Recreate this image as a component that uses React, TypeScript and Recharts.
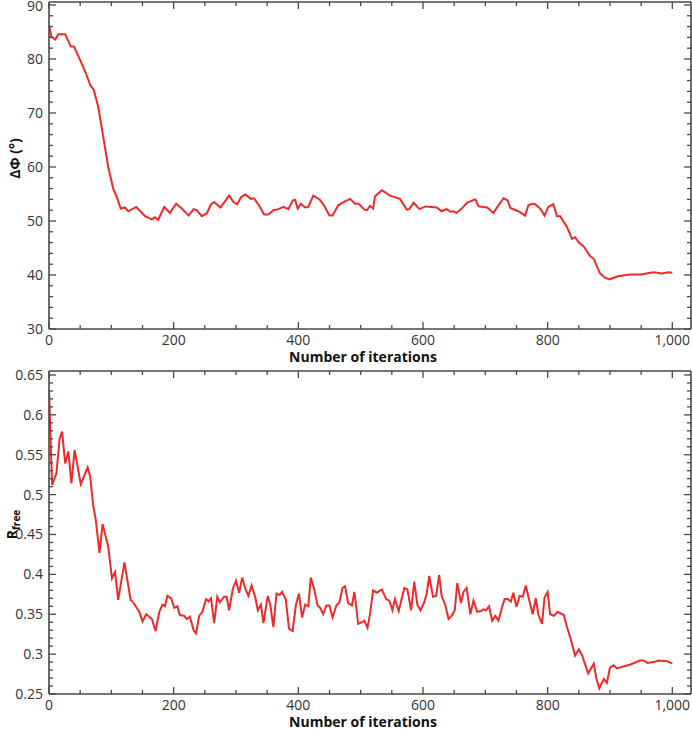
import { LineChart, Line, XAxis, YAxis, Label } from "recharts";

// Delta Phi vs iterations (top panel)
const topIter = [
  0, 4, 10, 15, 26, 35, 40, 50, 59, 66, 72, 79, 87, 95, 103, 110, 115, 122, 127, 140,
  154, 165, 170, 175, 185, 194, 204, 213, 224, 232, 237, 245, 253, 260, 265, 275, 289, 296, 302, 308,
  315, 324, 329, 339, 345, 352, 360, 368, 376, 384, 391, 395, 399, 404, 411, 416, 424, 434, 441, 450,
  455, 464, 474, 483, 491, 497, 506, 510, 515, 520, 523, 534, 547, 563, 574, 578, 585, 594, 604, 622,
  630, 638, 644, 649, 654, 662, 671, 684, 689, 703, 713, 729, 736, 740, 753, 764, 769, 775, 780, 788,
  795, 801, 809, 815, 820, 831, 839, 844, 850, 858, 868, 874, 884, 892, 899, 914, 933, 949, 970, 983,
  994, 1000,
];
const topDelta = [
  86.3, 84.1, 83.6, 84.6, 84.6, 82.3, 82.3, 79.8, 77.4, 75.2, 74.2, 71.1, 65.6, 60.0, 56.0, 54.1, 52.3, 52.5, 51.8, 52.6,
  50.9, 50.3, 50.7, 50.2, 52.6, 51.5, 53.2, 52.3, 51.0, 52.2, 52.0, 50.9, 51.4, 53.1, 53.5, 52.5, 54.7, 53.5, 53.1, 54.4,
  54.9, 54.1, 54.2, 52.5, 51.2, 51.2, 52.0, 52.2, 52.6, 52.2, 53.8, 53.9, 52.3, 53.2, 52.5, 52.6, 54.7, 54.0, 52.9, 51.0,
  51.0, 52.9, 53.6, 54.1, 53.2, 53.2, 52.1, 52.0, 52.8, 52.3, 54.6, 55.7, 54.7, 54.1, 52.1, 52.2, 53.4, 52.2, 52.7, 52.5,
  51.8, 52.2, 51.7, 51.8, 51.5, 52.3, 53.4, 54.0, 52.7, 52.5, 51.5, 54.2, 53.8, 52.4, 51.8, 51.0, 52.9, 53.2, 53.1, 52.3,
  51.0, 52.6, 53.1, 50.9, 50.9, 48.9, 46.7, 47.0, 46.0, 45.3, 43.5, 43.0, 40.3, 39.5, 39.2, 39.8, 40.1, 40.1, 40.5, 40.3,
  40.5, 40.4,
];

// R_free vs iterations (bottom panel)
const botIter = [
  0, 5, 12, 17, 21, 26, 31, 36, 41, 51, 62, 66, 71, 75, 81, 86, 95, 101, 106, 111,
  121, 131, 135, 145, 150, 156, 165, 171, 177, 182, 186, 190, 196, 201, 206, 210, 217, 221, 226, 232,
  236, 241, 246, 252, 256, 260, 265, 270, 274, 281, 285, 289, 295, 300, 305, 310, 315, 320, 325, 331,
  335, 340, 344, 351, 355, 360, 365, 370, 374, 380, 385, 391, 396, 401, 406, 411, 416, 420, 425, 431,
  435, 440, 445, 450, 455, 461, 466, 471, 475, 480, 486, 490, 496, 502, 506, 511, 515, 520, 526, 534,
  541, 546, 551, 555, 561, 570, 575, 581, 586, 591, 596, 602, 606, 610, 616, 621, 626, 630, 636, 641,
  646, 651, 655, 661, 665, 670, 676, 681, 687, 693, 697, 701, 706, 711, 716, 721, 727, 731, 736, 741,
  745, 750, 755, 760, 765, 770, 776, 781, 785, 791, 795, 800, 804, 810, 816, 826, 831, 837, 844, 850,
  855, 865, 874, 878, 883, 890, 895, 900, 906, 911, 933, 948, 954, 960, 970, 978, 992, 1000,
];
const botRfree = [
  0.632, 0.512, 0.527, 0.57, 0.579, 0.539, 0.554, 0.514, 0.556, 0.513, 0.534, 0.523, 0.486, 0.469, 0.427, 0.463, 0.435, 0.395, 0.403, 0.368,
  0.415, 0.368, 0.365, 0.353, 0.341, 0.35, 0.344, 0.329, 0.353, 0.362, 0.36, 0.373, 0.37, 0.358, 0.36, 0.349, 0.348, 0.344, 0.347, 0.33,
  0.326, 0.348, 0.353, 0.369, 0.366, 0.37, 0.339, 0.372, 0.365, 0.372, 0.372, 0.355, 0.382, 0.392, 0.377, 0.396, 0.382, 0.373, 0.386, 0.371,
  0.355, 0.362, 0.339, 0.373, 0.362, 0.334, 0.376, 0.374, 0.378, 0.368, 0.332, 0.329, 0.361, 0.376, 0.346, 0.362, 0.36, 0.396, 0.383, 0.361,
  0.358, 0.35, 0.361, 0.361, 0.346, 0.361, 0.365, 0.383, 0.385, 0.364, 0.361, 0.378, 0.338, 0.34, 0.342, 0.333, 0.35, 0.38, 0.377, 0.381,
  0.369, 0.367, 0.355, 0.369, 0.354, 0.383, 0.381, 0.355, 0.391, 0.362, 0.355, 0.365, 0.376, 0.398, 0.372, 0.373, 0.399, 0.373, 0.361, 0.344,
  0.348, 0.355, 0.389, 0.364, 0.378, 0.383, 0.35, 0.367, 0.353, 0.354, 0.356, 0.355, 0.36, 0.342, 0.348, 0.342, 0.359, 0.369, 0.369, 0.366,
  0.377, 0.359, 0.373, 0.372, 0.386, 0.369, 0.35, 0.37, 0.35, 0.338, 0.371, 0.378, 0.35, 0.348, 0.353, 0.349, 0.334, 0.319, 0.298, 0.306,
  0.299, 0.276, 0.288, 0.27, 0.257, 0.269, 0.264, 0.283, 0.286, 0.282, 0.287, 0.292, 0.292, 0.289, 0.29, 0.292, 0.291, 0.288,
];

// tick labels
const xMajor = [0, 200, 400, 600, 800, 1000];
const topMajor = [30, 40, 50, 60, 70, 80, 90];
const botMajor = [0.25, 0.3, 0.35, 0.4, 0.45, 0.5, 0.55, 0.6, 0.65];

// minor ticks (every 50 iterations, every 2 degrees, every 0.01)
const xTicks = Array.from({ length: 21 }, (_, i) => i * 50);
const topTicks = Array.from({ length: 31 }, (_, i) => 30 + i * 2);
const botTicks = Array.from({ length: 41 }, (_, i) => Math.round(25 + i) / 100);

const topData = topIter.map((it, i) => ({ iter: it, dphi: topDelta[i] }));
const botData = botIter.map((it, i) => ({ iter: it, rfree: botRfree[i] }));

const AXIS = "#484848";
const TXT = "#333";
const RED = "#ee2a2a";
const FONT = "'Open Sans', 'DejaVu Sans', sans-serif";

const isMajor = (majors: number[], v: number) => majors.some((m) => Math.abs(m - v) < 1e-6);
const fmtX = (v: number) => (v >= 1000 ? v.toLocaleString("en-US") : String(v));

// inward tick marks, long on major values; labels only on bottom/left majors
function AxisTick(props: any) {
  const { x, y, payload, side, majors, fmt } = props;
  const v = payload.value;
  const major = isMajor(majors, v);
  const len = major ? 7 : 4;
  const ls = { stroke: AXIS, strokeWidth: 1.3, fill: "none" };
  let mark = null;
  let label = null;
  if (side === "bottom") {
    mark = <path d={`M${x},${y}V${y - len}`} {...ls} />;
    if (major)
      label = (
        <text x={x} y={y + 16} textAnchor="middle" fill={TXT} stroke="none" fontSize={14} fontFamily={FONT}>
          {fmt(v)}
        </text>
      );
  } else if (side === "top") {
    mark = <path d={`M${x},${y}V${y + len}`} {...ls} />;
  } else if (side === "left") {
    mark = <path d={`M${x},${y}H${x + len}`} {...ls} />;
    if (major)
      label = (
        <text
          x={x - 6}
          y={Math.max(y + 5, 11)}
          textAnchor="end"
          fill={TXT}
          stroke="none"
          fontSize={14}
          fontFamily={FONT}
        >
          {fmt(v)}
        </text>
      );
  } else {
    mark = <path d={`M${x},${y}H${x - len}`} {...ls} />;
  }
  return (
    <g>
      {mark}
      {label}
    </g>
  );
}

const axisLine = { stroke: AXIS, strokeWidth: 1.6 };

function XTitle(props: any) {
  const vb = props.viewBox;
  return (
    <text
      x={vb.x + vb.width / 2 - 7}
      y={vb.y + 33}
      textAnchor="middle"
      fontSize={14}
      fontWeight="bold"
      fontFamily={FONT}
      fill="#111"
    >
      Number of iterations
    </text>
  );
}

function Panel({ data, dataKey, height, margin, yDomain, yTicks, yMajor, yTitle }: any) {
  const fmtY = (v: number) => String(v);
  return (
    <LineChart width={692} height={height} data={data} margin={margin}>
      <XAxis
        dataKey="iter"
        type="number"
        domain={[0, 1030]}
        ticks={xTicks}
        interval={0}
        tickSize={0}
        tickMargin={0}
        tickLine={false}
        axisLine={axisLine}
        height={36}
        allowDataOverflow
        tick={<AxisTick side="bottom" majors={xMajor} fmt={fmtX} />}
      >
        <Label content={<XTitle />} />
      </XAxis>
      <XAxis
        xAxisId="top"
        orientation="top"
        dataKey="iter"
        type="number"
        domain={[0, 1030]}
        ticks={xTicks}
        interval={0}
        tickSize={0}
        tickMargin={0}
        tickLine={false}
        axisLine={axisLine}
        height={1}
        allowDataOverflow
        tick={<AxisTick side="top" majors={xMajor} fmt={fmtX} />}
      />
      <YAxis
        type="number"
        domain={yDomain}
        ticks={yTicks}
        interval={0}
        tickSize={0}
        tickMargin={0}
        tickLine={false}
        axisLine={axisLine}
        width={48}
        allowDataOverflow
        tick={<AxisTick side="left" majors={yMajor} fmt={fmtY} />}
      >
        <Label content={yTitle} />
      </YAxis>
      <YAxis
        yAxisId="right"
        orientation="right"
        type="number"
        domain={yDomain}
        ticks={yTicks}
        interval={0}
        tickSize={0}
        tickMargin={0}
        tickLine={false}
        axisLine={axisLine}
        width={1}
        allowDataOverflow
        tick={<AxisTick side="right" majors={yMajor} fmt={fmtY} />}
      />
      {/* invisible copy so the mirrored top/right axes get drawn */}
      <Line
        xAxisId="top"
        yAxisId="right"
        type="linear"
        dataKey={dataKey}
        stroke="none"
        dot={false}
        legendType="none"
        isAnimationActive={false}
      />
      <Line
        type="linear"
        dataKey={dataKey}
        stroke={RED}
        strokeWidth={2}
        dot={false}
        isAnimationActive={false}
      />
    </LineChart>
  );
}

function DeltaTitle(props: any) {
  const vb = props.viewBox;
  const cx = 14;
  const cy = vb.y + vb.height / 2 - 7;
  return (
    <text
      x={cx}
      y={cy}
      transform={`rotate(-90, ${cx}, ${cy})`}
      textAnchor="middle"
      dominantBaseline="central"
      fontSize={14}
      fontWeight="bold"
      fontFamily={FONT}
      fill="#111"
    >
      ΔΦ (°)
    </text>
  );
}

function RfreeTitle(props: any) {
  const vb = props.viewBox;
  const cx = 13;
  const cy = vb.y + vb.height / 2 - 8;
  return (
    <text
      x={cx}
      y={cy}
      transform={`rotate(-90, ${cx}, ${cy})`}
      textAnchor="middle"
      fontSize={14}
      fontWeight="bold"
      fontFamily={FONT}
      fill="#111"
      dy={4}
    >
      R
      <tspan fontSize={10} dy={3}>
        free
      </tspan>
    </text>
  );
}

export default function App() {
  return (
    <div
      style={{
        position: "absolute",
        left: 0,
        top: 0,
        width: 692,
        height: 732,
        background: "#fff",
        overflow: "hidden",
      }}
    >
      <Panel
        data={topData}
        dataKey="dphi"
        height={365}
        margin={{ top: 1, right: 0, bottom: 0, left: 1 }}
        yDomain={[30, 90.55]}
        yTicks={topTicks}
        yMajor={topMajor}
        yTitle={<DeltaTitle />}
      />
      <Panel
        data={botData}
        dataKey="rfree"
        height={367}
        margin={{ top: 5, right: 0, bottom: 2, left: 1 }}
        yDomain={[0.25, 0.655]}
        yTicks={botTicks}
        yMajor={botMajor}
        yTitle={<RfreeTitle />}
      />
    </div>
  );
}
